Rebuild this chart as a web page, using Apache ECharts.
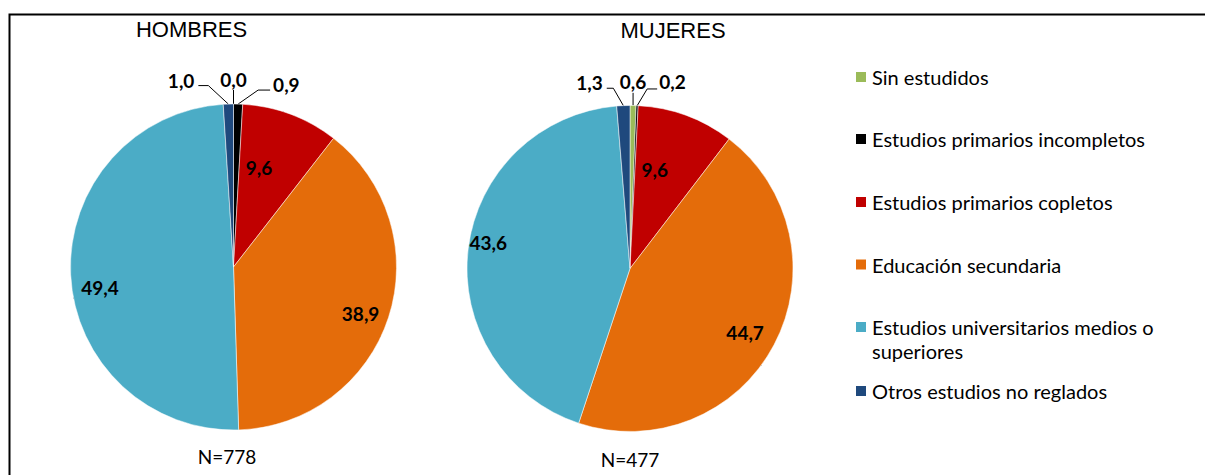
<!DOCTYPE html>
<html>
<head>
<meta charset="utf-8">
<title>Nivel de estudios por sexo</title>
<script src="https://cdn.jsdelivr.net/npm/echarts@6/dist/echarts.min.js"></script>
<style>
  html, body { margin: 0; padding: 0; background: #fff; }
  #chart { width: 1205px; height: 475px; }
</style>
</head>
<body>
<div id="chart"></div>
<script>
// datos
const categories = [
  "Sin estudidos",
  "Estudios primarios incompletos",
  "Estudios primarios copletos",
  "Educación secundaria",
  "Estudios universitarios medios o superiores",
  "Otros estudios no reglados",
];
const hombres = [0.0, 0.9, 9.6, 38.9, 49.4, 1.0];
const mujeres = [0.6, 0.2, 9.6, 44.7, 43.6, 1.3];
const groups = ["HOMBRES", "MUJERES"];
const sampleSizes = ["N=778", "N=477"];

// estilos / posiciones
const colors = ["#9BBB59", "#000000", "#C00000", "#E46C0A", "#4BACC6", "#1F497D"];
const pieCenters = [[233.5, 267], [630, 268.5]];
const pieRadius = 163;
const titlePos = [[191.5, 29], [673, 30]];
const nPos = [[227, 456], [630, 459]];
const legendMid = [77, 139, 202, 264.5, 327, 391];
// distancia de las etiquetas interiores (fraccion del radio)
const insideFrac = [null, null, 0.62, 0.82, 0.82, null];
// pequeno ajuste de las etiquetas interiores (px), como el "mejor ajuste" de Excel
const insideNudge = [
  [null, null, [-10, -5], [0, 5], [0, 14], null],
  [null, null, [-10, -4], [-3, 1], [-9, -10], null],
];
// lado de las etiquetas exteriores
const sides = ["center", "right", null, null, null, "left"];
// [dx codo, dy codo, largo horizontal, hueco, subida etiqueta]
const leaders = [
  { left: [-20, -18.5, 10, 4, 5], center: [0, -14, 0, 0, 11], right: [20, -14, 12, 3, 5.5] },
  { left: [-10, -17.4, 6.6, 4, 6], center: [0, -12.7, 0, 0, 11], right: [10, -16.7, 10, 2, 7] },
];

const fmt = (v) => v.toFixed(1).replace(".", ",");

function labelLayout(params) {
  const c = pieCenters[params.seriesIndex];
  const rect = params.labelRect;
  const frac = insideFrac[params.dataIndex];
  if (frac) {
    const lx = rect.x + rect.width / 2;
    const ly = rect.y + rect.height / 2;
    const dx = lx - c[0];
    const dy = ly - c[1];
    const d = Math.sqrt(dx * dx + dy * dy) || 1;
    const nudge = insideNudge[params.seriesIndex][params.dataIndex] || [0, 0];
    return {
      x: c[0] + (dx / d) * pieRadius * frac + nudge[0],
      y: c[1] + (dy / d) * pieRadius * frac + nudge[1],
      align: "center",
      verticalAlign: "middle",
    };
  }
  const side = sides[params.dataIndex];
  const cfg = leaders[params.seriesIndex][side];
  const p0 = params.labelLinePoints ? params.labelLinePoints[0] : [c[0], c[1] - pieRadius];
  const p1 = [p0[0] + cfg[0], p0[1] + cfg[1]];
  let p2;
  let x;
  let align;
  if (side === "left") {
    p2 = [p1[0] - cfg[2], p1[1]];
    x = p2[0] - cfg[3];
    align = "right";
  } else if (side === "right") {
    p2 = [p1[0] + cfg[2], p1[1]];
    x = p2[0] + cfg[3];
    align = "left";
  } else {
    p2 = [p1[0], p1[1]];
    x = p1[0];
    align = "center";
  }
  return {
    x: x,
    y: p2[1] - cfg[4],
    align: align,
    verticalAlign: "middle",
    labelLinePoints: [p0, p1, p2],
  };
}

function buildSeries(values, idx) {
  return {
    type: "pie",
    name: groups[idx],
    center: pieCenters[idx],
    radius: pieRadius,
    startAngle: 90,
    clockwise: true,
    avoidLabelOverlap: false,
    emphasis: { scale: false },
    itemStyle: { borderColor: "#fff", borderWidth: 0.5 },
    label: {
      show: true,
      color: "#000",
      fontFamily: "Lato",
      fontWeight: "bold",
      fontSize: 19,
      formatter: (p) => fmt(p.value),
    },
    labelLine: {
      show: true,
      length: 10,
      length2: 10,
      lineStyle: { color: "#000", width: 1 },
    },
    labelLayout: labelLayout,
    data: values.map((v, i) => ({
      name: categories[i],
      value: v,
      itemStyle: { color: colors[i] },
      label: { position: insideFrac[i] ? "inside" : "outside" },
    })),
  };
}

const myChart = echarts.init(document.getElementById("chart"), null, { renderer: "svg" });

const option = {
  animation: false,
  color: colors,
  // una leyenda por elemento para fijar el espaciado; la linea en blanco
  // deja el cuadro a la altura de la primera linea del texto largo
  legend: categories.map((name, i) => {
    const twoLines = name.indexOf(" o superiores") >= 0;
    return {
      data: [name],
      orient: "vertical",
      left: 854,
      top: twoLines ? legendMid[i] - 36 : legendMid[i] - 12,
      padding: 0,
      itemWidth: 12,
      itemHeight: 12,
      icon: "rect",
      selectedMode: false,
      formatter: (n) => (n.indexOf(" o superiores") >= 0 ? " \n" + n.replace(" o superiores", " o\nsuperiores") : n),
      textStyle: {
        fontFamily: "Lato",
        fontSize: 20,
        color: "#000",
        lineHeight: 24,
      },
    };
  }),
  graphic: [
    {
      type: "rect",
      silent: true,
      shape: { x: 9.5, y: 14.5, width: 1300, height: 600 },
      style: { fill: "none", stroke: "#000", lineWidth: 2 },
    },
  ]
    .concat(
      groups.map((g, i) => ({
        type: "text",
        silent: true,
        x: titlePos[i][0],
        y: titlePos[i][1],
        style: {
          text: g,
          fontFamily: "Liberation Sans",
          fontSize: 22,
          fill: "#000",
          align: "center",
          verticalAlign: "middle",
        },
      }))
    )
    .concat(
      sampleSizes.map((t, i) => ({
        type: "text",
        silent: true,
        x: nPos[i][0],
        y: nPos[i][1],
        style: {
          text: t,
          fontFamily: "Lato",
          fontSize: 19,
          fill: "#000",
          align: "center",
          verticalAlign: "middle",
        },
      }))
    ),
  series: [buildSeries(hombres, 0), buildSeries(mujeres, 1)],
};

myChart.setOption(option);
</script>
</body>
</html>
